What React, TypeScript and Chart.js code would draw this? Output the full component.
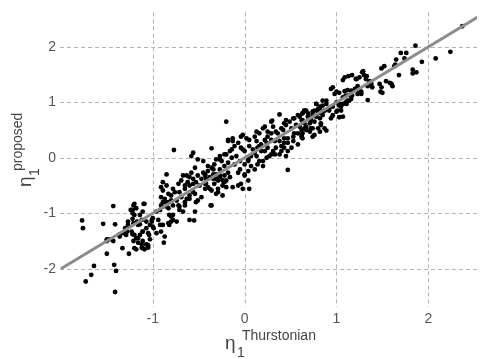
import React, { useEffect, useRef } from "react";
import { Chart, registerables } from "chart.js";

Chart.register(...registerables);

// [eta1 Thurstonian, eta1 proposed]
const pairs: [number, number][] = [
  [-1.64,-1.95],[-1.67,-2.11],[-1.73,-2.23],[-1.42,-1.93],[-1.40,-2.04],[-1.41,-2.42],[-1.50,-1.73],[-1.26,-1.73],
  [-1.33,-1.63],[-1.20,-1.63],[-1.50,-1.50],[-1.43,-1.50],[-1.12,-1.56],[-1.07,-1.56],[-1.05,-1.58],[-1.11,-1.63],
  [-1.77,-1.13],[-1.76,-1.27],[-1.43,-0.87],[-1.20,-0.83],[-1.10,-0.83],[-1.22,-0.94],[-1.54,-1.19],[-1.41,-1.20],
  [-1.50,-1.47],[-1.27,-1.15],[-1.22,-1.10],[-1.17,-1.15],[-1.14,-1.20],[-1.07,-1.15],[-1.01,-1.12],[-0.99,-1.27],
  [-1.11,-1.33],[-1.05,-1.36],[-1.28,-1.33],[-1.36,-1.38],[-1.22,-1.38],[-1.16,-1.45],[-1.47,-1.47],
  [-1.24,-0.94],[-1.21,-0.86],[-1.22,-1.00],[-1.18,-0.91],[-1.20,-1.03],[-1.14,-1.03],[-1.09,-0.83],[-1.11,-0.97],
  [-1.12,-1.12],[-1.16,-1.21],[-1.21,-1.18],[-1.27,-1.21],[-1.30,-1.27],[-1.32,-1.36],[-1.36,-1.42],[-1.29,-1.39],
  [-1.23,-1.33],[-1.20,-1.39],[-1.21,-1.50],[-1.18,-1.45],[-1.14,-1.39],[-1.16,-1.53],[-1.11,-1.50],[-1.07,-1.56],
  [-1.12,-1.62],[-1.18,-1.65],[-1.09,-1.65],[-1.05,-1.62],[-1.03,-1.47],[-1.04,-1.39],[-1.11,-1.33],[-1.07,-1.27],
  [-1.03,-1.21],[-1.01,-1.15],[-1.00,-1.09],[-0.96,-0.97],[-0.92,-0.94],[-0.91,-0.86],[-0.89,-0.80],[-0.94,-1.12],
  [-0.92,-1.21],[-1.00,-1.24],[-0.96,-1.36],[-0.91,-1.33],[-0.89,-1.21],[-0.88,-1.53],[-0.87,-1.42],[-0.83,-1.18],
  [-0.80,-1.15],[-0.78,-1.12],[-0.82,-1.03],[-0.85,-0.88],[-0.83,-0.80],[-0.87,-0.74],[-0.91,-0.71],[-0.89,-0.59],
  [-0.91,-0.53],[-0.85,-0.50],[-0.83,-0.65],[-0.80,-0.68],[-0.76,-0.62],[-0.74,-0.77],[-0.78,-0.86],[-0.72,-0.86],
  [-0.71,-0.94],[-0.67,-0.97],[-0.65,-0.86],[-0.63,-0.74],[-0.60,-0.68],[-0.56,-0.62],[-0.69,-0.71],[-0.71,-0.62],
  [-0.65,-0.50],[-0.62,-0.44],[-0.60,-0.35],[-0.67,-0.32],[-0.69,-0.41],[-0.56,-0.47],[-0.53,-0.44],[-0.49,-0.50],
  [-0.47,-0.38],[-0.43,-0.32],[-0.38,-0.35],[-0.34,-0.30],[-0.31,-0.38],[-0.27,-0.35],[-0.24,-0.41],[-0.22,-0.32],
  [-0.42,-0.47],[-0.38,-0.56],[-0.51,-0.77],[-0.54,-0.97],[-0.60,-1.12],[-0.74,-1.15],[-0.80,-1.06],[-0.82,-1.21],
  [-0.36,-0.86],[-0.31,-0.65],[-0.24,-0.68],[-0.20,-0.53],
  [-0.20,0.65],[-0.36,0.17],[-0.37,-0.86],[0.47,-0.22],[0.38,0.78],[0.74,0.53],[0.62,0.41],[0.83,0.59],
  [0.29,0.65],[0.22,0.56],[0.13,0.47],[-0.02,0.41],[-0.18,0.32],[-0.13,0.30],[-0.07,0.27],[-0.11,0.21],
  [-0.04,0.18],[0.00,0.12],[-0.16,0.12],[-0.22,0.06],[-0.27,0.03],[-0.31,-0.03],[-0.25,-0.06],[-0.33,-0.12],
  [-0.36,-0.18],[-0.40,-0.24],[-0.43,-0.30],[-0.42,-0.38],[-0.34,-0.38],[-0.31,-0.30],[-0.27,-0.21],[-0.22,-0.15],
  [-0.18,-0.09],[-0.14,0.00],[-0.09,0.03],[-0.05,-0.06],[0.00,-0.12],[0.04,-0.03],[0.07,0.03],[0.11,0.09],
  [0.14,0.18],[0.18,0.24],[0.22,0.32],[0.25,0.38],[0.29,0.44],[0.34,0.47],[0.40,0.53],[0.43,0.62],
  [0.49,0.65],[0.54,0.71],[0.58,0.77],[0.63,0.80],[0.65,0.85],[0.69,0.74],[0.72,0.68],[0.78,0.74],
  [0.80,0.83],[0.51,0.53],[0.54,0.44],[0.47,0.35],[0.43,0.27],[0.40,0.21],[0.34,0.18],[0.31,0.12],
  [0.29,0.06],[0.24,0.00],[0.20,-0.06],[0.14,-0.12],[0.11,-0.21],[0.07,-0.15],[0.04,-0.24],[0.00,-0.30],
  [-0.07,-0.27],[-0.04,-0.47],[-0.07,-0.50],[-0.13,-0.53],[-0.29,-0.62],[-0.36,-0.59],[-0.40,-0.53],[-0.43,-0.47],
  [-0.22,-0.44],[-0.29,-0.41],[-0.16,-0.35],[0.43,0.18],[0.47,0.12],[0.38,0.06],[0.18,0.12],[0.25,0.18],
  [0.33,0.30],[0.13,0.30],[0.05,0.21],[0.02,0.35],[0.53,0.30],[0.58,0.24],[0.65,0.53],[0.71,0.47],
  [0.76,0.41],[0.82,0.47],
  [2.37,2.37],[2.24,1.91],[2.08,1.79],[1.93,1.73],[1.86,2.02],[1.70,1.89],[1.76,1.89],[1.74,1.79],
  [1.65,1.77],[1.64,1.68],[1.63,1.65],[1.52,1.65],[1.49,1.61],[1.68,1.49],[1.83,1.59],[1.83,1.52],
  [1.87,1.54],[1.28,1.54],[1.30,1.49],[1.33,1.47],[1.17,1.49],[1.13,1.47],[1.07,1.40],[1.25,1.45],
  [1.22,1.42],[1.36,1.38],[1.38,1.33],[1.34,1.29],[1.39,1.27],[1.47,1.33],[1.49,1.27],[1.48,1.19],
  [1.50,1.17],[1.54,1.38],[1.60,1.33],[1.61,1.29],[1.58,1.35],[1.34,1.04],[0.96,1.27],[1.00,1.19],
  [0.98,1.15],[1.03,1.17],[1.09,1.20],[1.12,1.22],[1.14,1.13],[1.23,1.29],[1.25,1.20],[1.27,1.19],
  [1.23,1.15],[0.85,1.03],[0.89,0.97],[0.82,0.92],[0.87,0.85],[0.84,0.80],[0.92,0.85],[0.96,0.76],
  [1.03,0.97],[1.05,0.92],[1.01,0.85],[1.07,0.74],[1.17,1.12],[1.16,1.06],[1.12,1.03],[1.11,0.97],
  [1.32,1.42],[1.29,1.56],[1.21,1.42],[1.09,1.45],[1.16,1.21],[1.20,1.24],[1.27,1.15],[0.94,1.24],
  [1.07,1.09],[1.10,1.12],[1.14,1.03],[1.10,1.00],[1.00,1.00],[1.03,0.94],[1.07,0.97],[1.05,0.85],
  [1.00,0.83],[0.96,0.92],[0.92,0.88],[0.89,1.03],[0.85,0.94],[0.87,0.85],[0.82,0.88],[0.78,0.97],
  [0.80,0.80],[0.76,0.85],[0.74,0.77],[0.87,0.53],[0.89,0.49],[1.03,0.73],[0.96,0.77],[0.94,0.71],
  [0.67,0.85],[0.63,0.80],[0.69,0.74],[0.62,0.68],[0.65,0.62],[0.60,0.56],[0.71,0.62],[0.67,0.50],
  [0.63,0.44],[0.72,0.53],[0.76,0.65],[0.82,0.71],[0.83,0.62],[0.80,0.53],[0.85,0.77],[0.74,0.38],
  [0.62,0.38],[0.30,0.67],[0.78,0.97],[0.45,0.68],[0.53,0.71],[0.60,0.74],[0.65,0.85],[0.69,0.80],
  [0.74,0.83],[0.80,0.88],[0.72,0.71],[0.63,0.68],
  [-0.77,0.14],[-0.55,-1.13],[-0.85,-0.30],[-0.89,-0.44],[-0.78,-0.56],[-0.72,-0.47],[-0.65,-0.56],[-0.60,-0.50],
  [-0.56,-0.38],[-0.51,-0.32],[-0.58,-0.27],[-0.63,-0.32],[-0.80,-0.77],[-0.85,-0.80],[-0.89,-0.88],[-0.83,-0.91],
  [-0.78,-1.03],[-0.71,-0.88],[-0.65,-0.80],[-0.60,-0.74],[-0.54,-0.65],[-0.53,-0.80],[-0.47,-0.71],[-0.43,-0.56],
  [-0.45,-0.27],[-0.54,-0.18],[-0.58,0.03],[-0.56,0.09],[-0.51,-0.03],[-0.45,-0.06],[-0.40,-0.15],[-0.34,-0.21],
  [-0.27,-0.32],[-0.33,-0.47],[-0.29,-0.56],[-0.24,-0.50],[-0.20,-0.41],[-0.18,-0.27],[-0.27,-0.03],[-0.20,0.06],
  [-0.14,0.15],[-0.18,0.30],[-0.13,0.35],[-0.04,0.38],[-0.02,0.15],[-0.11,-0.12],[-0.05,-0.21],
  [0.05,0.32],[0.11,0.38],[0.16,0.44],[0.20,0.53],[0.25,0.47],[0.31,0.56],[0.36,0.44],[0.42,0.50],
  [0.45,0.59],[0.56,0.59],[0.62,0.50],[0.67,0.56],[0.09,0.15],[0.13,0.03],[0.16,0.21],[0.22,0.12],
  [0.24,0.27],[0.29,0.32],[0.38,0.30],[0.43,0.35],[0.47,0.27],[0.53,0.38],[0.58,0.44],[0.63,0.35],
  [0.04,-0.06],[0.16,-0.06],[0.20,-0.15],[0.27,0.03],[0.33,0.06],[0.40,0.12],[0.45,0.03],[0.51,0.18],
  [0.00,-0.32],[0.04,-0.41],[0.05,-0.56],[-0.02,-0.56]
];

const thurstonian = pairs.map((p) => p[0]);
const proposed = pairs.map((p) => p[1]);
const identityLine = [-2, 2.7];
const xTickValues = [-1, 0, 1, 2];
const yTickValues = [-2, -1, 0, 1, 2];

const FONT = '"Liberation Sans", Arial, Helvetica, sans-serif';

const dashedGridPlugin = {
  id: "dashedGrid",
  beforeDatasetsDraw(chart: any) {
    const ctx = chart.ctx as CanvasRenderingContext2D;
    const { left, right, top, bottom } = chart.chartArea;
    const xs = chart.scales.x;
    const ys = chart.scales.y;
    ctx.save();
    ctx.strokeStyle = "#b3b3b3";
    ctx.lineWidth = 1;
    ctx.setLineDash([4, 3]);
    ctx.beginPath();
    xTickValues.forEach((v) => {
      const px = Math.round(xs.getPixelForValue(v)) + 0.5;
      ctx.moveTo(px, top);
      ctx.lineTo(px, bottom);
    });
    yTickValues.forEach((v) => {
      const py = Math.round(ys.getPixelForValue(v)) + 0.5;
      ctx.moveTo(left, py);
      ctx.lineTo(right, py);
    });
    ctx.stroke();
    ctx.restore();
  },
};

const titlePlugin = {
  id: "axisTitles",
  afterDraw(chart: any) {
    const ctx = chart.ctx as CanvasRenderingContext2D;
    ctx.save();
    ctx.fillStyle = "#444444";
    ctx.textAlign = "left";
    ctx.textBaseline = "alphabetic";
    // x title
    ctx.font = `19px ${FONT}`;
    ctx.fillText("η", 225, 349);
    ctx.font = `14px ${FONT}`;
    ctx.fillText("1", 237, 357);
    ctx.fillText("Thurstonian", 242, 340);
    // y title
    ctx.translate(31, 187);
    ctx.rotate(-Math.PI / 2);
    ctx.font = `19px ${FONT}`;
    ctx.fillText("η", 0, 0);
    ctx.font = `14px ${FONT}`;
    ctx.fillText("1", 11, 8);
    ctx.fillText("proposed", 16, -9);
    ctx.restore();
  },
};

export default function App() {
  const ref = useRef<HTMLCanvasElement | null>(null);
  useEffect(() => {
    if (!ref.current) return;
    const chart = new Chart(ref.current, {
      type: "scatter",
      data: {
        datasets: [
          {
            type: "line",
            data: identityLine.map((v) => ({ x: v, y: v })),
            borderColor: "#8c8c8c",
            borderWidth: 3,
            pointRadius: 0,
            order: 0,
          } as any,
          {
            data: thurstonian.map((x, i) => ({ x, y: proposed[i] })),
            backgroundColor: "#000000",
            borderWidth: 0,
            pointRadius: 2.4,
            order: 1,
          },
        ],
      },
      options: {
        animation: false,
        responsive: false,
        events: [],
        layout: { padding: { left: 0, right: 3, top: 7, bottom: 0 } },
        plugins: { legend: { display: false }, tooltip: { enabled: false } },
        scales: {
          x: {
            type: "linear",
            min: -2.01,
            max: 2.53,
            afterBuildTicks: (s: any) => {
              s.ticks = xTickValues.map((v) => ({ value: v }));
            },
            afterFit: (s: any) => {
              s.height = 52;
            },
            border: { display: false },
            grid: { display: false, drawTicks: false },
            ticks: {
              color: "#555555",
              font: { family: FONT, size: 14 },
              padding: 4,
              maxRotation: 0,
            },
          },
          y: {
            type: "linear",
            min: -2.69,
            max: 2.62,
            afterBuildTicks: (s: any) => {
              s.ticks = yTickValues.map((v) => ({ value: v }));
            },
            afterFit: (s: any) => {
              s.width = 60;
            },
            border: { display: false },
            grid: { display: false, drawTicks: false },
            ticks: {
              color: "#555555",
              font: { family: FONT, size: 14 },
              padding: 4,
            },
          },
        },
      },
      plugins: [dashedGridPlugin, titlePlugin],
    } as any);
    return () => chart.destroy();
  }, []);
  return (
    <div style={{ position: "absolute", left: 0, top: 0, width: 481, height: 359, background: "#fff" }}>
      <canvas ref={ref} width={481} height={359} style={{ width: 481, height: 359, display: "block" }} />
    </div>
  );
}
